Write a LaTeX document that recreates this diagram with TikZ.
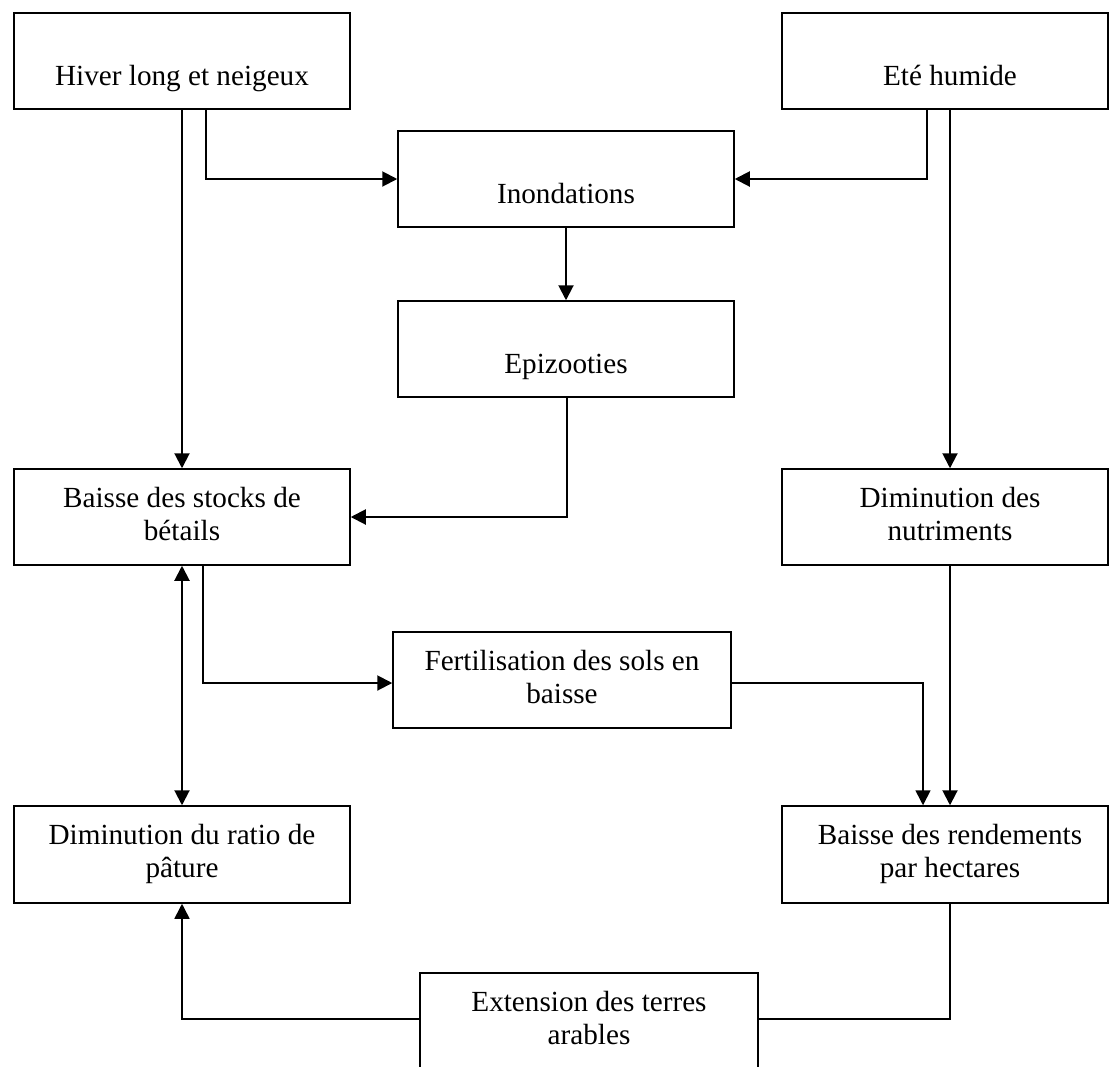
\documentclass[tikz,border=0pt]{standalone}
\usepackage{fontspec}
\setmainfont{Liberation Serif}
\usetikzlibrary{arrows.meta,calc}
\begin{document}
\begin{tikzpicture}[x=1pt,y=-1pt,
  box/.style={draw, line width=1.5pt, inner sep=0pt},
  wbox/.style={box, minimum width=336pt, minimum height=96pt},
  rbox/.style={box, minimum width=326pt, minimum height=96pt},
  lbl/.style={font=\fontsize{29.2}{33.5}\selectfont, align=center, inner sep=0pt, anchor=north},
  tip/.style={-{Triangle[length=15pt,width=15pt]}},
  conn/.style={line width=2pt, tip},
  thinconn/.style={line width=1.6pt},
]
\useasboundingbox (0,0) rectangle (1110,1066);

% boxes
\node[wbox] (hiver) at (182,61) {};
\node[rbox] (ete) at (945,61) {};
\node[wbox] (inond) at (566,179) {};
\node[wbox] (epiz) at (566,349) {};
\node[wbox] (baisse) at (182,517) {};
\node[rbox] (nutr) at (945,517) {};
\node[box, minimum width=338pt, minimum height=96pt] (fert) at (562,680) {};
\node[box, minimum width=336pt, minimum height=97pt] (ratio) at (182,854.5) {};
\node[box, minimum width=326pt, minimum height=97pt] (rend) at (945,854.5) {};
\node[box, minimum width=338pt, minimum height=96pt] (ext) at (589,1021) {};

% texts
\node[lbl] (hiver-t) at (182,61.5) {\strut Hiver long et neigeux};
\node[lbl] (ete-t) at (950,61.5) {\strut Eté humide};
\node[lbl] (inond-t) at (566,179.5) {\strut Inondations};
\node[lbl] (epiz-t) at (566,349.5) {\strut Epizooties};
\node[lbl] (baisse-t) at (182,483.5) {\strut Baisse des stocks de\\bétails};
\node[lbl] (nutr-t) at (950,483.5) {\strut Diminution des\\nutriments};
\node[lbl] (fert-t) at (562,646.5) {\strut Fertilisation des sols en\\baisse};
\node[lbl] (ratio-t) at (182,820.5) {\strut Diminution du ratio de\\pâture};
\node[lbl] (rend-t) at (950,820.5) {\strut Baisse des rendements\\par hectares};
\node[lbl] (ext-t) at (589,987.5) {\strut Extension des terres\\arables};

% connectors
\draw[conn] (hiver.south) -- (baisse.north);
\draw[conn] ($(hiver.south)+(24,0)$) |- (inond.west);
\draw[conn] ($(ete.south)+(-18,0)$) |- (inond.east);
\draw[conn] ($(ete.south)+(5,0)$) -- ($(nutr.north)+(5,0)$);
\draw[conn] (inond.south) -- (epiz.north);
\draw[conn] ($(epiz.south)+(1,0)$) |- (baisse.east);
\draw[line width=2pt, {Triangle[length=15pt,width=15pt]}-{Triangle[length=15pt,width=15pt]}] (baisse.south) -- (ratio.north);
\draw[conn] ($(baisse.south)+(21,0)$) |- ($(fert.west)+(0,3)$);
\draw[thinconn, tip] ($(fert.east)+(0,3)$) -| ($(rend.north)+(-22,0)$);
\draw[conn] ($(nutr.south)+(5,0)$) -- ($(rend.north)+(5,0)$);
\draw[thinconn] ($(rend.south)+(5,0)$) |- ($(ext.east)+(0,-2)$);
\draw[thinconn, tip] ($(ext.west)+(0,-2)$) -| (ratio.south);
\end{tikzpicture}
\end{document}
